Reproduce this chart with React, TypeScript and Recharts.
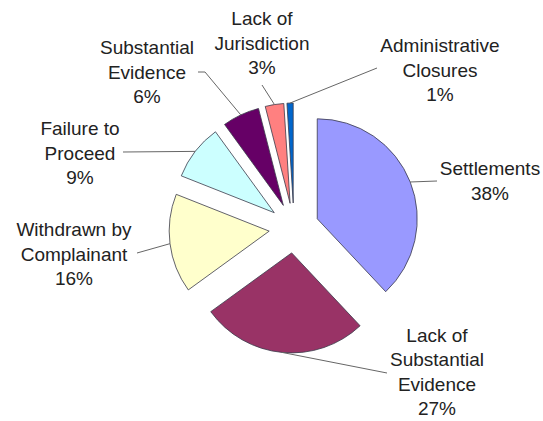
import React from "react";
import { PieChart, Pie, Cell } from "recharts";

// slices, clockwise from 12 o'clock (Excel default order)
const categories = [
  "Settlements",
  "Lack of\nSubstantial\nEvidence",
  "Withdrawn by\nComplainant",
  "Failure to\nProceed",
  "Substantial\nEvidence",
  "Lack of\nJurisdiction",
  "Administrative\nClosures",
];
const shares = [38, 27, 16, 9, 6, 3, 1];
const colors = ["#9999FF", "#993366", "#FFFFCC", "#CCFFFF", "#660066", "#FF8080", "#0066CC"];

const data = categories.map((name, i) => ({ name, value: shares[i] }));

const W = 543;
const H = 421;
const CX = 294;
const CY = 228;
const R = 100;
const EXPLODE = 25;
const RAD = Math.PI / 180;

// label block centre + where the leader line ends (elbow optional)
const labelLayout = [
  { x: 490, y: 181, end: [437, 181] },
  { x: 437, y: 372, end: [387, 373] },
  { x: 74, y: 254, end: [137, 253] },
  { x: 80, y: 153, end: [123, 152] },
  { x: 147, y: 72, end: [198, 72], elbow: [205, 72] },
  { x: 262, y: 43, end: [262, 85] },
  { x: 440, y: 70, end: [377, 68] },
];

const total = shares.reduce((a, b) => a + b, 0);
const midAngles = shares.map((v, i) => {
  const before = shares.slice(0, i).reduce((a, b) => a + b, 0);
  return 90 - ((before + v / 2) / total) * 360;
});

const makeLabel = (slice: number) => (props: any) => {
  if (props.index !== slice) return null;
  const { cx, cy, midAngle, outerRadius } = props;
  const ax = cx + outerRadius * Math.cos(-midAngle * RAD);
  const ay = cy + outerRadius * Math.sin(-midAngle * RAD);
  const lay = labelLayout[slice];
  const pts = [[ax, ay]] as number[][];
  if (lay.elbow) pts.push(lay.elbow);
  pts.push(lay.end);
  const lines = categories[slice].split("\n").concat(`${shares[slice]}%`);
  const lh = 24.5;
  return (
    <g>
      <polyline
        points={pts.map((p) => p.join(",")).join(" ")}
        fill="none"
        stroke="#666"
        strokeWidth={1}
      />
      <text
        x={lay.x}
        textAnchor="middle"
        fill="#222"
        fontSize={19}
        fontFamily="'Liberation Sans', Arial, sans-serif"
      >
        {lines.map((ln, k) => (
          <tspan key={k} x={lay.x} y={lay.y + (k - (lines.length - 1) / 2) * lh} dominantBaseline="central">
            {ln}
          </tspan>
        ))}
      </text>
    </g>
  );
};

export default function App() {
  return (
    <div style={{ position: "absolute", left: 0, top: 0, width: W, height: H, background: "#fff" }}>
      <PieChart width={W} height={H} margin={{ top: 0, right: 0, bottom: 0, left: 0 }}>
        {shares.map((_, s) => (
          <Pie
            key={s}
            data={data}
            dataKey="value"
            nameKey="name"
            cx={CX + EXPLODE * Math.cos(midAngles[s] * RAD)}
            cy={CY - EXPLODE * Math.sin(midAngles[s] * RAD)}
            innerRadius={0}
            outerRadius={R}
            startAngle={90}
            endAngle={-270}
            label={makeLabel(s)}
            labelLine={false}
            isAnimationActive={false}
          >
            {data.map((_, i) => (
              <Cell
                key={i}
                fill={i === s ? colors[i] : "none"}
                stroke={i === s ? "#3a3a4a" : "none"}
                strokeWidth={0.8}
              />
            ))}
          </Pie>
        ))}
      </PieChart>
    </div>
  );
}
